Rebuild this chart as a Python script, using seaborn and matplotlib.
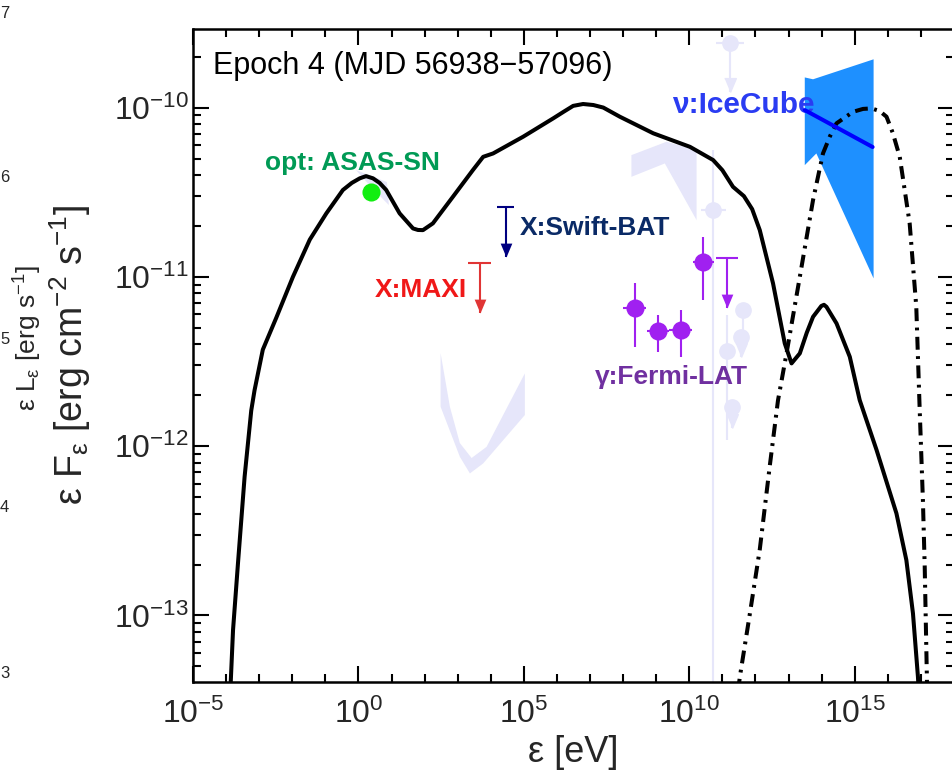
import numpy as np
import pandas as pd
import matplotlib
matplotlib.use("Agg")
import matplotlib.pyplot as plt
import seaborn as sns
from matplotlib import font_manager
from matplotlib.ticker import FixedLocator, FixedFormatter, NullFormatter

# ---------------- data (log10 of energy [eV] and flux [erg cm^-2 s^-1]) -------------
model_logE = [-3.88, -3.861, -3.79, -3.64, -3.44, -3.24, -3.14, -2.89, -2.48, -1.98, -1.47,
              -0.97, -0.47, -0.2, 0.04, 0.23, 0.44, 0.64, 0.84, 1.245, 1.65, 1.8, 1.95, 2.25,
              2.855, 3.46, 3.77, 4.07, 4.98, 5.885, 6.2, 6.49, 6.79, 7.1, 7.4, 7.90, 8.91,
              10.02, 10.72, 11.0, 11.32, 11.65, 11.9, 12.13, 12.53, 12.885, 13.09, 13.34,
              13.55, 13.74, 13.99, 14.07, 14.145, 14.45, 14.85, 15.15, 15.66, 16.26, 16.56,
              16.76, 16.91, 16.95]
model_logF = [-13.5, -13.40, -13.086, -12.69, -12.18, -11.79, -11.67, -11.43, -11.24, -11.00,
              -10.78, -10.625, -10.487, -10.445, -10.418, -10.405, -10.418, -10.445, -10.487,
              -10.625, -10.714, -10.723, -10.724, -10.684, -10.527, -10.369, -10.291, -10.271,
              -10.172, -10.064, -10.025, -9.99, -9.979, -9.985, -10.0, -10.054, -10.152,
              -10.232, -10.31, -10.37, -10.468, -10.523, -10.6, -10.724, -11.038, -11.393,
              -11.511, -11.452, -11.33, -11.236, -11.172, -11.165, -11.177, -11.275, -11.472,
              -11.728, -12.023, -12.397, -12.673, -12.988, -13.362, -13.5]

nu_model_logE = [11.47, 11.53, 11.83, 12.13, 12.43, 12.68, 12.94, 13.34, 13.74, 14.04, 14.25,
                 14.45, 14.95, 15.25, 15.505, 15.75, 15.96, 16.15, 16.36, 16.66, 16.86, 16.96,
                 17.06, 17.115, 17.18, 17.19]
nu_model_logF = [-13.45, -13.36, -12.99, -12.61, -12.12, -11.73, -11.45, -11.00, -10.546,
                 -10.271, -10.17, -10.093, -10.025, -10.008, -10.005, -10.02, -10.054, -10.15,
                 -10.291, -10.684, -11.177, -11.767, -12.318, -12.712, -13.36, -13.5]

# optical (ASAS-SN)
opt_logE, opt_logF = [0.37], [-10.50]
# X-ray upper limits: [logE, logF, log arrow tip, half width in dex]
maxi_ul = [3.66, -10.92, -11.216, 0.35]
bat_ul = [4.45, -10.59, -10.88, 0.25]
# Fermi-LAT
lat_logE = [8.35, 9.05, 9.74, 10.42]
lat_logF = [-11.184, -11.32, -11.314, -10.911]
lat_logF_hi = [-11.037, -11.226, -11.196, -10.763]
lat_logF_lo = [-11.415, -11.444, -11.474, -11.137]
lat_xerr_dex = [0.35, 0.33, 0.35, 0.32]
lat_ul = [11.14, -10.887, -11.186, 0.34]
# IceCube bow-tie and best fit
ice_poly_logE = [13.49, 13.74, 15.57, 15.57, 13.84, 13.49]
ice_poly_logF = [-9.822, -9.833, -9.715, -11.009, -10.271, -10.34]
ice_fit_logE = [13.49, 15.54]
ice_fit_logF = [-10.015, -10.233]

# faint (other epochs) data
xray_band_logE = [2.483, 2.764, 3.066, 3.42, 3.873, 5.03, 5.03, 3.77, 3.369, 3.066, 2.483]
xray_band_logF = [-11.45, -11.767, -11.982, -12.07, -12.004, -11.57, -11.816, -12.102,
                  -12.161, -12.063, -11.767]
gev_band_logE = [8.25, 9.31, 10.22, 10.22, 9.26, 8.25]
gev_band_logF = [-10.281, -10.202, -10.251, -10.665, -10.33, -10.409]
opt_band_logE = [-0.076, 0.861, 0.92, 0.41]
opt_band_logF = [-10.369, -10.44, -10.576, -10.475]
faint_pt_logE = [10.72, 11.63, 11.13]
faint_pt_logF = [-10.605, -11.196, -11.438]
faint_pt_hi = [-10.251, -11.196, -11.226]
faint_pt_lo = [-13.7, -11.314, -11.964]
faint_pt_xerr = [0.38, 0.0, 0.0]
faint_ul_logE = [11.22, 11.56, 11.28]
faint_ul_logF = [-9.619, -11.354, -11.769]
faint_ul_tip = [-9.908, -11.474, -11.893]
faint_ul_xerr = [0.42, 0.0, 0.0]

ylab_exponents = ["7", "6", "5", "4", "3"]

# ---------------- style ----------------
sns.set_theme(style="ticks")
names = {f.name for f in font_manager.fontManager.ttflist}
NARROW = "Liberation Sans Narrow" if "Liberation Sans Narrow" in names else "Liberation Sans"
plt.rcParams["font.family"] = ["Liberation Sans", "DejaVu Sans"]
plt.rcParams["mathtext.default"] = "regular"

FAINT = "#e6e6fa"
P = lambda v: np.power(10.0, np.asarray(v, dtype=float))

fig = plt.figure(figsize=(9.52, 7.73), dpi=100)
ax = fig.add_axes([193 / 952, 91 / 773, 761 / 952, 653.5 / 773])
ax.set_xscale("log")
ax.set_yscale("log")

# faint background data
ax.fill(P(xray_band_logE), P(xray_band_logF), color=FAINT, lw=0, zorder=1)
ax.fill(P(gev_band_logE), P(gev_band_logF), color=FAINT, lw=0, zorder=1)
ax.fill(P(opt_band_logE), P(opt_band_logF), color=FAINT, lw=0, zorder=1)
for e, f, hi, lo, xe in zip(faint_pt_logE, faint_pt_logF, faint_pt_hi, faint_pt_lo, faint_pt_xerr):
    ax.vlines(P(e), P(lo), P(hi), color=FAINT, lw=1.5, zorder=1)
    if xe > 0:
        ax.hlines(P(f), P(e - xe), P(e + xe), color=FAINT, lw=1.5, zorder=1)
ax.plot(P(faint_pt_logE), P(faint_pt_logF), "o", color=FAINT, ms=11, zorder=1)
tri = [(-0.42, 1.0), (0.42, 1.0), (0.0, 0.0)]
for e, f, t, xe in zip(faint_ul_logE, faint_ul_logF, faint_ul_tip, faint_ul_xerr):
    ax.vlines(P(e), P(t), P(f), color=FAINT, lw=1.5, zorder=1)
    if xe > 0:
        ax.hlines(P(f), P(e - xe), P(e + xe), color=FAINT, lw=1.5, zorder=1)
    ax.plot(P(e), P(t), marker=tri, color=FAINT, ms=20, zorder=1)
ax.plot(P(faint_ul_logE), P(faint_ul_logF), "o", color=FAINT, ms=11, zorder=1)

# IceCube bow-tie
ax.fill(P(ice_poly_logE), P(ice_poly_logF), color="#1e90ff", lw=0, zorder=2)

# model curves
sns.lineplot(x=P(model_logE), y=P(model_logF), sort=False, estimator=None,
             color="black", lw=2.9, ax=ax, zorder=4)
sns.lineplot(x=P(nu_model_logE), y=P(nu_model_logF), sort=False, estimator=None,
             color="black", lw=2.9, linestyle=(0, (3.2, 1.6, 0.7, 1.6)), ax=ax, zorder=4)
sns.lineplot(x=P(ice_fit_logE), y=P(ice_fit_logF), sort=False, estimator=None,
             color="#0000ff", lw=2.9, ax=ax, zorder=5)

# optical point
sns.scatterplot(x=P(opt_logE), y=P(opt_logF), color="#11ee11", s=170, linewidth=0,
                ax=ax, zorder=6)

# upper limits
def upper_limit(ul, color, ms=20, lw=1.5):
    e, f, t, hw = ul
    ax.hlines(P(f), P(e - hw), P(e + hw), color=color, lw=lw, zorder=6)
    ax.vlines(P(e), P(t), P(f), color=color, lw=lw, zorder=6)
    ax.plot(P(e), P(t), marker=tri, color=color, ms=ms, mew=0, zorder=6)

upper_limit(maxi_ul, "#e03535")
upper_limit(bat_ul, "#000080")
upper_limit(lat_ul, "#a020f0")

# Fermi-LAT points
lat = pd.DataFrame({"E": P(lat_logE), "F": P(lat_logF)})
ax.errorbar(lat["E"], lat["F"],
            yerr=[lat["F"] - P(lat_logF_lo), P(lat_logF_hi) - lat["F"]],
            xerr=[lat["E"] - P(np.array(lat_logE) - lat_xerr_dex),
                  P(np.array(lat_logE) + lat_xerr_dex) - lat["E"]],
            fmt="none", ecolor="#a020f0", elinewidth=1.5, capsize=0, zorder=6)
sns.scatterplot(data=lat, x="E", y="F", color="#a020f0", s=170, linewidth=0, ax=ax, zorder=7)

# ---------------- axes ----------------
ax.set_xlim(1e-5, 1e18)
ax.set_ylim(P(-13.393), P(-9.533))

xmaj = [1e-5, 1e0, 1e5, 1e10, 1e15]
ax.xaxis.set_major_locator(FixedLocator(xmaj))
ax.xaxis.set_major_formatter(FixedFormatter([r"$\mathregular{10^{-5}}$", r"$\mathregular{10^{0}}$",
                                             r"$\mathregular{10^{5}}$", r"$\mathregular{10^{10}}$",
                                             r"$\mathregular{10^{15}}$"]))
ax.xaxis.set_minor_locator(FixedLocator([10.0 ** k for k in range(-5, 19)]))
ax.xaxis.set_minor_formatter(NullFormatter())
ymaj = [1e-13, 1e-12, 1e-11, 1e-10]
ax.yaxis.set_major_locator(FixedLocator(ymaj))
ax.yaxis.set_major_formatter(FixedFormatter([r"$\mathregular{10^{-13}}$", r"$\mathregular{10^{-12}}$",
                                             r"$\mathregular{10^{-11}}$", r"$\mathregular{10^{-10}}$"]))
ax.yaxis.set_minor_locator(FixedLocator([m * 10.0 ** k for k in range(-14, -9) for m in range(2, 10)]))
ax.yaxis.set_minor_formatter(NullFormatter())

ax.tick_params(which="both", direction="in", top=True, right=True, width=1.5, color="black")
ax.tick_params(which="major", length=11.5)
ax.tick_params(which="minor", length=5.8)
ax.tick_params(axis="x", which="major", pad=12, labelsize=27 if NARROW != "Liberation Sans" else 23)
ax.tick_params(axis="y", which="major", pad=3, labelsize=23)
for lbl in ax.get_xticklabels():
    lbl.set_fontfamily(NARROW)
for s in ax.spines.values():
    s.set_linewidth(1.8)
    s.set_color("black")

ax.set_xlabel("ε [eV]", fontsize=31 if NARROW != "Liberation Sans" else 26, family=NARROW)
ax.xaxis.set_label_coords(0.5, (682 - 762) / 653.5)
ax.xaxis.label.set_va("baseline")
ax.set_ylabel(r"ε F$_\mathregular{ε}$ [erg cm$^\mathregular{-2}$ s$^\mathregular{-1}$]", fontsize=27)
ax.yaxis.set_label_coords((70 - 193) / 761, 0.5)
ax.yaxis.label.set_va("center")

# ---------------- annotations ----------------
ax.text(0.0263, 0.9304, "Epoch 4 (MJD 56938−57096)", transform=ax.transAxes,
        fontsize=22, va="baseline", ha="left", color="black")
ax.text(0.0942, 0.7835, "opt: ASAS-SN", transform=ax.transAxes, fontsize=19,
        weight="bold", color="#009a55", va="baseline")
ax.text(0.2388, 0.5896, "X:MAXI", transform=ax.transAxes, fontsize=19,
        weight="bold", color="#f01818", va="baseline")
ax.text(0.4297, 0.684, "X:Swift-BAT", transform=ax.transAxes, fontsize=19,
        weight="bold", color="#0a2a66", va="baseline")
ax.text(0.5283, 0.456, "γ:Fermi-LAT", transform=ax.transAxes, fontsize=19,
        weight="bold", color="#7030a0", va="baseline", zorder=8)
ax.text(0.6294, 0.870, "ν:IceCube", transform=ax.transAxes, fontsize=21.5,
        weight="bold", color="#2a3cf2", va="baseline", zorder=3)

# secondary luminosity axis label (cut at the figure edge)
fig.text(28 / 952, 1 - 338 / 773, r"ε L$_\mathregular{ε}$ [erg s$^\mathregular{-1}$]",
         rotation=90, fontsize=19, ha="center", va="center", family=NARROW)
for lab, ypix in zip(ylab_exponents, [14, 178, 340, 507, 673]):
    fig.text(0.0, 1 - ypix / 773, lab, fontsize=12, ha="left", va="center")

fig.savefig("out.png", dpi=100)
